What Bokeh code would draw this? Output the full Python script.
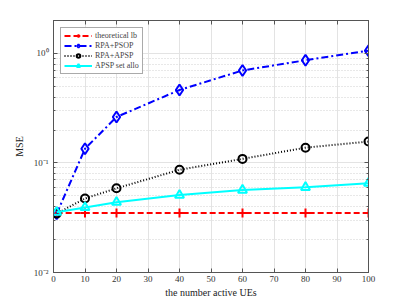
from bokeh.plotting import figure
from bokeh.embed import file_html
from bokeh.resources import INLINE
from bokeh.models import FixedTicker, LinearAxis, LogAxis, CustomJSTickFormatter, Range1d

x_users = [1, 10, 20, 40, 60, 80, 100]
theo_lb = [0.0350, 0.0350, 0.0350, 0.0350, 0.0350, 0.0350, 0.0350]
rpa_psop = [0.0344, 0.135, 0.263, 0.464, 0.70, 0.867, 1.06]
rpa_apsp = [0.0345, 0.0474, 0.0587, 0.0867, 0.109, 0.138, 0.157]
apsp_set = [0.0355, 0.0392, 0.0438, 0.0509, 0.0566, 0.0600, 0.0653]

x_ticks = [0, 10, 20, 30, 40, 50, 60, 70, 80, 90, 100]
y_ticks = [0.01, 0.1, 1.0]
y_minor = [m * d for d in [0.01, 0.1, 1.0] for m in range(2, 10)]
y_tick_labels = ["10\u207b\u00b2", "10\u207b\u00b9", "10\u2070"]

FONT = "Liberation Serif"

p = figure(width=391, height=300, y_axis_type="log",
           x_range=Range1d(0, 100), y_range=Range1d(0.01, 2.0),
           output_backend="svg", toolbar_location=None,
           min_border_left=53, min_border_right=23, min_border_top=20, min_border_bottom=26)

p.outline_line_color = "#555555"
p.background_fill_color = "white"

# grids
p.xgrid.ticker = FixedTicker(ticks=x_ticks)
p.xgrid.grid_line_color = "#e3e3e3"
p.ygrid.ticker = FixedTicker(ticks=y_ticks, minor_ticks=y_minor)
p.ygrid.grid_line_color = "#e3e3e3"
p.ygrid.minor_grid_line_color = "#d0d0d0"
p.ygrid.minor_grid_line_dash = "1 2"

# axes
xa = p.xaxis[0]
xa.ticker = FixedTicker(ticks=x_ticks)
xa.axis_label = "the number active UEs"
ya = p.yaxis[0]
ya.ticker = FixedTicker(ticks=y_ticks, minor_ticks=y_minor)
ya.axis_label = "MSE"
ya.formatter = CustomJSTickFormatter(args=dict(labs=y_tick_labels, tvals=y_ticks), code="""
    for (let i = 0; i < tvals.length; i++) {
        if (Math.abs(Math.log10(tick) - Math.log10(tvals[i])) < 1e-6) return labs[i];
    }
    return "";
""")

for ax in (xa, ya):
    ax.axis_line_color = "#555555"
    ax.major_tick_line_color = "#555555"
    ax.minor_tick_line_color = "#555555"
    ax.major_tick_in = 4
    ax.major_tick_out = 0
    ax.minor_tick_in = 2
    ax.minor_tick_out = 0
    ax.major_label_text_font = FONT
    ax.major_label_text_font_size = "9px"
    ax.major_label_text_color = "#333333"
    ax.axis_label_text_font = FONT
    ax.axis_label_text_font_size = "10px"
    ax.axis_label_text_font_style = "normal"
    ax.axis_label_text_color = "#222222"
    ax.major_label_standoff = 3
    ax.axis_label_standoff = 2
ya.major_label_standoff = 5
ya.axis_label_standoff = 6

# box ticks on top / right (no labels)
top = LinearAxis(ticker=FixedTicker(ticks=x_ticks), formatter=CustomJSTickFormatter(code="return '';"),
                 major_tick_in=4, major_tick_out=0, minor_tick_line_color=None,
                 major_label_standoff=0,
                 axis_line_color="#555555", major_tick_line_color="#555555")
p.add_layout(top, "above")
right = LogAxis(ticker=FixedTicker(ticks=y_ticks, minor_ticks=y_minor),
                formatter=CustomJSTickFormatter(code="return '';"),
                major_tick_in=4, major_tick_out=0, minor_tick_in=2, minor_tick_out=0,
                major_label_standoff=0,
                axis_line_color="#555555", major_tick_line_color="#555555", minor_tick_line_color="#555555")
p.add_layout(right, "right")

# series
p.line(x_users, theo_lb, color="#ff0000", line_width=2, line_dash="6 3", legend_label="theoretical lb")
p.scatter(x_users, theo_lb, marker="cross", size=9, line_color="#ff0000", line_width=2, legend_label="theoretical lb")

p.line(x_users, rpa_psop, color="#0000ff", line_width=2, line_dash="7 3 2 3", legend_label="RPA+PSOP")
p.scatter(x_users, rpa_psop, marker="diamond", size=11, line_color="#0000ff", fill_color="white", fill_alpha=0.0,
          line_width=2, legend_label="RPA+PSOP")

p.line(x_users, rpa_apsp, color="black", line_width=2, line_dash="1 2", legend_label="RPA+APSP")
p.scatter(x_users, rpa_apsp, marker="circle", size=8, line_color="black", fill_alpha=0.0,
          line_width=2, legend_label="RPA+APSP")

p.line(x_users, apsp_set, color="#00ffff", line_width=2, legend_label="APSP set allo")
p.scatter(x_users, apsp_set, marker="triangle", size=9, line_color="#00ffff", fill_alpha=0.0,
          line_width=2, legend_label="APSP set allo")

lg = p.legend[0]
lg.location = "top_left"
lg.margin = 7
lg.padding = 3
lg.spacing = 1
lg.label_text_font = FONT
lg.label_text_font_size = "8px"
lg.label_height = 9
lg.glyph_height = 9
lg.glyph_width = 28
lg.label_standoff = 3
lg.border_line_color = "#555555"
lg.border_line_width = 1
lg.background_fill_color = "white"
lg.background_fill_alpha = 1.0

open("out.html", "w").write(file_html(p, INLINE))
